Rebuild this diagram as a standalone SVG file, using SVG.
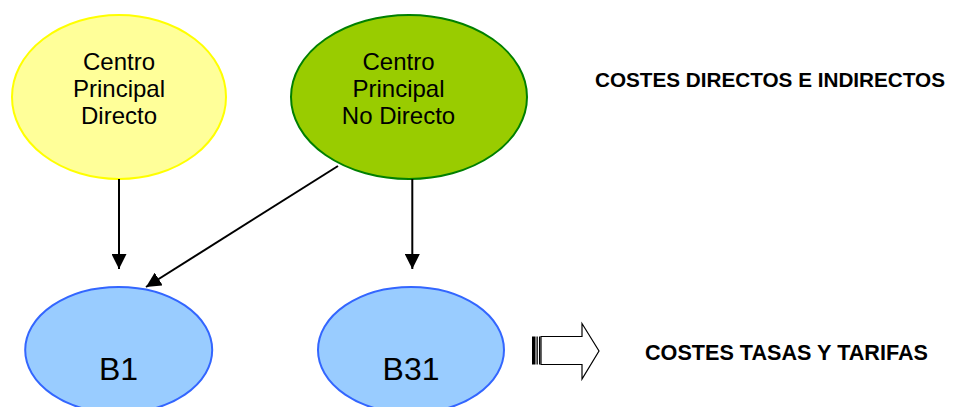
<svg xmlns="http://www.w3.org/2000/svg" width="955" height="407" viewBox="0 0 955 407">
<defs>
<marker id="ah" markerWidth="15" markerHeight="15" refX="15" refY="7.5" orient="auto" markerUnits="userSpaceOnUse">
<path d="M0,0 L15,7.5 L0,15 Z" fill="#000"/>
</marker>
<style>
.t{font-family:"Liberation Sans",Arial,sans-serif;fill:#000;text-anchor:middle}
.n{font-size:24px}
.b{font-size:32px}
.h{font-family:"Liberation Sans",Arial,sans-serif;font-weight:bold;fill:#000}
.c{stroke:#000;stroke-width:2;fill:none;marker-end:url(#ah)}
</style>
</defs>
<rect width="955" height="407" fill="#fff"/>
<g id="cpd">
<ellipse cx="119" cy="97" rx="107" ry="82" fill="#FFFF99" stroke="#FFFF00" stroke-width="2"/>
<text class="t n" x="119" y="70">Centro</text>
<text class="t n" x="119" y="97">Principal</text>
<text class="t n" x="119" y="124">Directo</text>
</g>
<g id="cpnd">
<ellipse cx="409" cy="97" rx="118" ry="82" fill="#99CC00" stroke="#008000" stroke-width="2"/>
<text class="t n" x="398.5" y="70">Centro</text>
<text class="t n" x="398.5" y="97">Principal</text>
<text class="t n" x="398.5" y="124">No Directo</text>
</g>
<g id="b1">
<ellipse cx="118.7" cy="350" rx="93.5" ry="63" fill="#99CCFF" stroke="#3366FF" stroke-width="2"/>
<text class="t b" x="118.5" y="380">B1</text>
</g>
<g id="b31">
<ellipse cx="411" cy="350" rx="93" ry="63" fill="#99CCFF" stroke="#3366FF" stroke-width="2"/>
<text class="t b" x="411" y="380">B31</text>
</g>
<g id="connectors">
<line class="c" x1="119" y1="179" x2="119" y2="269"/>
<line class="c" x1="412.3" y1="179" x2="412.3" y2="269"/>
<line class="c" x1="338" y1="166" x2="146" y2="287"/>
</g>
<g id="block-arrow">
<rect x="532" y="336.5" width="3.5" height="28" fill="#000"/>
<rect x="536.5" y="336.5" width="1.3" height="28" fill="#000"/>
<rect x="539" y="336.5" width="1.3" height="28" fill="#000"/>
<path d="M541,336.5 L582,336.5 L582,323.5 L599,351 L582,379 L582,364.5 L541,364.5 Z" fill="#fff" stroke="#000" stroke-width="1.2"/>
</g>
<g id="labels">
<text class="h" x="595" y="87" font-size="20.5" textLength="350" lengthAdjust="spacingAndGlyphs">COSTES DIRECTOS E INDIRECTOS</text>
<text class="h" x="645" y="360" font-size="21.5" textLength="283" lengthAdjust="spacingAndGlyphs">COSTES TASAS Y TARIFAS</text>
</g>
</svg>
